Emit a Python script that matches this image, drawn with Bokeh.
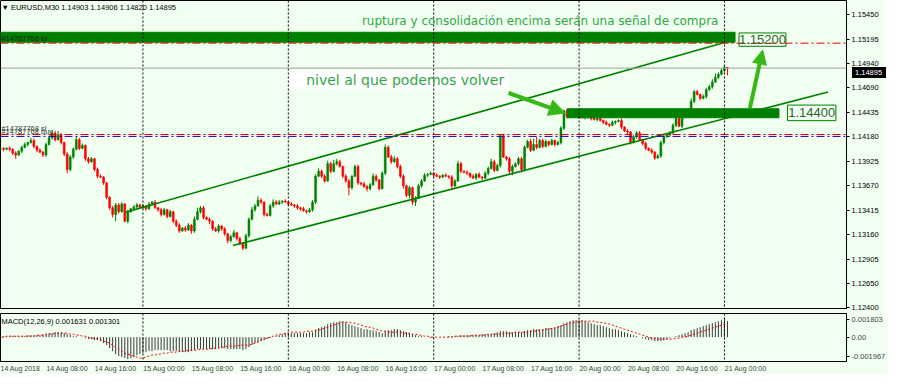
from bokeh.plotting import figure
from bokeh.layouts import column
from bokeh.models import (Range1d, FixedTicker, NumeralTickFormatter, Label,
                          Arrow, NormalHead, Span, Div)
from bokeh.embed import file_html
from bokeh.resources import INLINE

# ---------------- data (EURUSD M30) ----------------
BASE = 1.1240  # close values below are pips above this level
close_pips = [
    166, 166, 165, 166, 165, 161, 159, 163, 167, 170,
    172, 174, 168, 164, 162, 159, 170, 177, 182, 175,
    180, 172, 160, 144, 157, 165, 175, 166, 169, 155,
    152, 155, 144, 137, 136, 130, 115, 104, 97, 107,
    100, 108, 90, 100, 103, 105, 107, 104, 106, 103,
    108, 110, 104, 102, 97, 102, 95, 100, 90, 86,
    80, 83, 81, 86, 80, 92, 100, 104, 94, 92,
    90, 82, 80, 85, 82, 77, 70, 74, 78, 72,
    67, 62, 75, 92, 102, 106, 112, 110, 97, 96,
    106, 110, 108, 110, 111, 110, 108, 107, 106, 104,
    103, 101, 100, 102, 110, 137, 142, 137, 132, 150,
    142, 150, 152, 147, 137, 132, 125, 137, 147, 130,
    129, 126, 124, 128, 137, 133, 124, 140, 167, 157,
    152, 155, 147, 137, 127, 117, 125, 110, 114, 127,
    132, 138, 139, 140, 138, 137, 136, 138, 137, 136,
    127, 132, 150, 142, 141, 140, 137, 135, 139, 136,
    135, 140, 145, 152, 143, 148, 179, 157, 155, 142,
    147, 150, 155, 144, 167, 173, 164, 170, 167, 174,
    168, 173, 170, 174, 170, 172, 187, 205, 199, 201,
    200, 202, 199, 198, 199, 198, 197, 196, 197, 195,
    193, 191, 190, 193, 194, 195, 188, 184, 183, 172,
    178, 182, 175, 171, 166, 164, 162, 156, 158, 172,
    178, 180, 182, 190, 197, 189, 202, 205, 206, 215,
    225, 222, 218, 220, 227, 230, 235, 240, 243, 247,
    250.3, 249.5,
]
upper_wick_pips = [
    1, 2, 1, 1, 2, 1, 2, 1, 2, 2,
    1, 3, 2, 1, 2, 1, 2, 2, 3, 2,
    4, 2, 1, 2, 2, 2, 3, 2, 2, 1,
    2, 2, 1, 2, 2, 1, 1, 1, 2, 2,
    2, 2, 1, 2, 1, 2, 2, 1, 2, 1,
    2, 1, 2, 1, 2, 2, 1, 2, 1, 2,
    2, 1, 2, 2, 1, 3, 4, 2, 2, 1,
    2, 1, 2, 2, 1, 2, 1, 2, 3, 1,
    2, 1, 2, 2, 3, 2, 4, 2, 1, 2,
    2, 3, 2, 2, 1, 2, 1, 2, 1, 2,
    1, 2, 1, 2, 2, 2, 3, 2, 2, 3,
    2, 4, 3, 2, 1, 2, 2, 1, 2, 2,
    1, 2, 2, 2, 3, 2, 1, 2, 3, 2,
    2, 3, 2, 2, 2, 1, 2, 1, 2, 2,
    2, 2, 1, 2, 1, 2, 1, 1, 2, 1,
    2, 2, 3, 2, 1, 2, 1, 2, 1, 2,
    1, 2, 2, 3, 2, 2, 1, 2, 1, 2,
    2, 1, 2, 2, 2, 2, 3, 6, 8, 2,
    2, 2, 1, 2, 1, 2, 2, 1, 2, 2,
    1, 2, 1, 2, 1, 2, 1, 2, 1, 2,
    1, 2, 1, 2, 1, 1, 2, 1, 2, 1,
    2, 2, 2, 1, 2, 1, 2, 1, 2, 2,
    2, 1, 2, 2, 2, 1, 2, 2, 2, 3,
    2, 2, 1, 2, 2, 2, 3, 4, 2, 2,
    2, 0.3,
]
lower_wick_pips = [
    2, 1, 2, 1, 2, 2, 4, 1, 2, 1,
    2, 1, 2, 2, 1, 2, 2, 1, 2, 2,
    1, 2, 2, 4, 2, 2, 1, 2, 1, 2,
    2, 1, 2, 2, 1, 2, 2, 2, 3, 7,
    2, 1, 1, 2, 1, 1, 2, 1, 1, 2,
    1, 2, 1, 2, 2, 1, 2, 1, 2, 2,
    2, 1, 2, 1, 3, 2, 1, 2, 2, 1,
    3, 2, 1, 2, 2, 2, 3, 2, 1, 2,
    2, 2, 1, 2, 1, 2, 1, 2, 2, 1,
    1, 2, 1, 1, 2, 1, 2, 1, 2, 2,
    2, 1, 2, 1, 2, 2, 1, 2, 2, 1,
    2, 1, 2, 1, 2, 2, 8, 2, 1, 2,
    2, 1, 3, 2, 1, 2, 2, 1, 2, 1,
    2, 1, 2, 2, 3, 2, 3, 3, 4, 1,
    2, 1, 2, 1, 2, 1, 2, 1, 1, 2,
    4, 2, 1, 2, 1, 2, 2, 1, 2, 1,
    2, 1, 2, 1, 2, 1, 2, 1, 2, 3,
    4, 1, 2, 3, 2, 1, 2, 1, 2, 1,
    2, 1, 2, 1, 2, 1, 2, 2, 2, 1,
    2, 1, 2, 1, 2, 1, 2, 1, 2, 1,
    2, 1, 2, 1, 2, 1, 2, 1, 2, 2,
    1, 2, 1, 2, 2, 1, 2, 2, 1, 2,
    2, 1, 2, 1, 2, 1, 2, 1, 2, 2,
    2, 1, 2, 1, 2, 1, 2, 1, 2, 1,
    2, 7.5,
]
macd_main_e4 = [
    1, 1, 1, 1, 1, 1, 1, 1, 1, 1,
    2, 2, 2, 2, 2, 3, 3, 4, 4, 5,
    5, 5, 4, 3, 2, 1, 1, 0, 0, -1,
    -2, -2, -3, -3, -4, -6, -8, -11, -14, -17,
    -19, -20, -21, -22, -21, -20, -18, -17, -16, -15,
    -14, -14, -13, -13, -13, -13, -13, -14, -14, -14,
    -15, -15, -15, -15, -14, -13, -12, -12, -12, -12,
    -12, -12, -12, -11, -11, -11, -12, -12, -12, -12,
    -12, -13, -12, -10, -8, -6, -5, -4, -3, -2,
    -1, 0, 1, 2, 3, 4, 4, 4, 4, 4,
    4, 4, 4, 5, 5, 7, 9, 10, 11, 13,
    14, 15, 15, 16, 16, 15, 13, 12, 11, 10,
    9, 8, 8, 7, 7, 6, 5, 4, 6, 7,
    7, 8, 8, 7, 6, 5, 4, 3, 2, 1,
    1, 0, 0, -1, -1, 0, 0, 0, 0, 1,
    1, 1, 1, 2, 2, 2, 2, 2, 2, 2,
    3, 3, 3, 3, 4, 5, 6, 6, 6, 5,
    5, 5, 5, 5, 6, 7, 7, 8, 8, 8,
    8, 9, 9, 9, 10, 11, 12, 14, 15, 16,
    17, 17, 17, 17, 16, 15, 14, 13, 12, 12,
    11, 10, 9, 8, 8, 7, 6, 5, 4, 3,
    2, 1, 0, -1, -2, -3, -3, -4, -4, -4,
    -3, -2, -1, 0, 1, 2, 3, 4, 5, 7,
    8, 9, 10, 11, 12, 13, 14, 15, 16, 17,
    18, 16,
]
macd_signal_e4 = [
    0, 0, 0, 1, 1, 1, 1, 1, 1, 1,
    1, 1, 1, 2, 2, 2, 3, 3, 3, 4,
    4, 4, 4, 4, 3, 3, 2, 2, 1, 1,
    0, -1, -1, -2, -3, -4, -5, -6, -8, -10,
    -12, -14, -16, -17, -18, -19, -20, -21, -21, -20,
    -19, -18, -18, -17, -17, -16, -16, -15, -15, -15,
    -14, -14, -14, -13, -13, -13, -13, -12, -12, -12,
    -12, -11, -11, -11, -10, -10, -9, -9, -9, -9,
    -8, -8, -8, -8, -7, -6, -5, -3, -2, -1,
    0, 1, 2, 3, 3, 4, 4, 5, 5, 5,
    5, 5, 6, 6, 6, 7, 7, 8, 9, 10,
    11, 12, 13, 14, 15, 15, 15, 14, 14, 13,
    12, 11, 10, 10, 9, 8, 7, 6, 6, 5,
    5, 5, 5, 5, 4, 4, 4, 3, 3, 2,
    2, 1, 1, 0, 0, 0, 0, 0, 0, 0,
    0, 1, 1, 1, 1, 1, 1, 2, 2, 2,
    2, 2, 3, 3, 3, 3, 3, 4, 4, 4,
    4, 5, 5, 5, 5, 5, 6, 6, 6, 7,
    7, 8, 8, 9, 9, 10, 11, 12, 13, 14,
    15, 15, 16, 16, 16, 16, 16, 16, 15, 15,
    14, 14, 13, 12, 11, 10, 9, 8, 7, 6,
    5, 4, 3, 2, 1, 0, -1, -1, -2, -2,
    -2, -2, -2, -2, -1, -1, 0, 0, 1, 2,
    3, 4, 5, 6, 7, 8, 9, 10, 11, 12,
    13, 13,
]
time_tick_bars = [0, 16, 32, 48, 64, 80, 96, 112, 128, 144, 160, 176, 192, 208, 224, 240]
time_tick_labels = ["14 Aug 2018", "14 Aug 08:00", "14 Aug 16:00", "15 Aug 00:00",
                    "15 Aug 08:00", "15 Aug 16:00", "16 Aug 00:00", "16 Aug 08:00",
                    "16 Aug 16:00", "17 Aug 00:00", "17 Aug 08:00", "17 Aug 16:00",
                    "20 Aug 00:00", "20 Aug 08:00", "20 Aug 16:00", "21 Aug 00:00"]
day_start_bars = [48, 96, 144, 192, 240]
price_ticks = [1.15450, 1.15195, 1.14940, 1.14690, 1.14435, 1.14180, 1.13925,
               1.13670, 1.13415, 1.13160, 1.12905, 1.12650, 1.12400]
macd_ticks = [0.001803, 0.0, -0.001967]
macd_tick_labels = ["0.001803", "0.00", "-0.001967"]
bid_price = 1.14895
bid_text = "1.14895"
tp_level = 1.15155
sl_level = 1.14204
buy_level = 1.14184
header_text = "\u25bc EURUSD,M30  1.14903 1.14906 1.14820 1.14895"
macd_text = "MACD(12,26,9) 0.001631 0.001301"

# ---------------- derived OHLC ----------------
n = len(close_pips)
idx = list(range(n))
close = [BASE + v / 1e4 for v in close_pips]
opens = [close[0]] + close[:-1]
tops = [max(o, c) for o, c in zip(opens, close)]
bots = [min(o, c) for o, c in zip(opens, close)]
high = [t + u / 1e4 for t, u in zip(tops, upper_wick_pips)]
low = [b - l / 1e4 for b, l in zip(bots, lower_wick_pips)]
BULL, BEAR = "#008000", "#FF0000"
colors = [BULL if c >= o else BEAR for o, c in zip(opens, close)]
macd_main = [v / 1e4 for v in macd_main_e4]
macd_signal = [v / 1e4 for v in macd_signal_e4]

BG = "#F0FFF0"
X0, X1 = 0.97, 280.3
Y0, Y1 = 1.12392, 1.15599
SMALL = "Liberation Sans"
FW = 846          # frame width of both panels
PH = 308          # price frame height

# ---------------- price panel ----------------
p = figure(frame_width=FW, frame_height=PH, x_range=Range1d(X0, X1),
           y_range=Range1d(Y0, Y1), output_backend="svg",
           toolbar_location=None, x_axis_location=None, y_axis_location="right",
           min_border_left=0, min_border_top=0, min_border_bottom=5,
           min_border_right=38, background_fill_color=BG, border_fill_color=BG,
           outline_line_color="black", outline_line_width=1)
p.grid.visible = False
ya = p.yaxis[0]
ya.ticker = FixedTicker(ticks=price_ticks)
ya.formatter = NumeralTickFormatter(format="0.00000")
ya.major_label_text_font = SMALL
ya.major_label_text_font_size = "7.5px"
ya.major_label_text_color = "black"
ya.major_tick_out = 3
ya.major_tick_in = 0
ya.minor_tick_out = 0
ya.minor_tick_in = 0
ya.major_label_standoff = 2
ya.axis_line_color = "black"

for d in day_start_bars:
    p.add_layout(Span(location=d, dimension="height", line_color="black",
                      line_dash="2 2", line_width=1))

# candles
p.segment(x0=idx, y0=low, x1=idx, y1=high, line_color=colors, line_width=1)
p.vbar(x=idx, width=0.6, top=tops, bottom=bots, fill_color=colors,
       line_color=colors, line_width=0.6)

# horizontal levels
p.add_layout(Span(location=bid_price, dimension="width", line_color="#A0A0A0", line_width=1))
p.add_layout(Span(location=tp_level, dimension="width", line_color="#E00000",
                  line_dash="8 3 2 3", line_width=1))
p.add_layout(Span(location=sl_level, dimension="width", line_color="#E00000",
                  line_dash="8 3 2 3", line_width=1))
p.add_layout(Span(location=buy_level, dimension="width", line_color="#0000CC",
                  line_dash="8 3 2 3", line_width=1))

# thick green zones
GREEN = "#008000"
p.quad(left=X0 - 1, right=243.5, bottom=1.15164, top=1.15268,
       fill_color=GREEN, line_color=GREEN)
p.quad(left=188.1, right=258.0, bottom=1.14378, top=1.14472,
       fill_color=GREEN, line_color=GREEN)

# channel lines
p.line([42.3, 243.5], [1.13395, 1.15192], line_color=GREEN, line_width=1.6)
p.line([77.7, 274.2], [1.13047, 1.14646], line_color=GREEN, line_width=1.6)

# price boxes
for (l, r, b, t, txt) in [(244.8, 260.3, 1.15122, 1.15261, "1.15200"),
                          (260.8, 276.8, 1.14348, 1.14510, "1.14400")]:
    p.quad(left=l, right=r, bottom=b, top=t, fill_color=BG,
           line_color=GREEN, line_width=1)
    p.add_layout(Label(x=(l + r) / 2, y=(b + t) / 2, text=txt, text_align="center",
                       text_baseline="middle", text_font=SMALL,
                       text_font_size="13px", text_color="#2F5F2F"))

# arrows
ARROW = "#38B818"
p.add_layout(Arrow(x_start=168.7, y_start=1.14636, x_end=187.4, y_end=1.14427,
                   line_color=ARROW, line_width=4,
                   end=NormalHead(size=16, fill_color=ARROW, line_color=ARROW)))
p.add_layout(Arrow(x_start=248.4, y_start=1.14477, x_end=252.6, y_end=1.15083,
                   line_color=ARROW, line_width=4,
                   end=NormalHead(size=14, fill_color=ARROW, line_color=ARROW)))

# text annotations
TXT = "#30A848"
p.quad(left=95.8, right=168.7, bottom=1.14685, top=1.14854,
       fill_color="white", line_color="white")
p.add_layout(Label(x=101.9, y=1.14772, text="nivel al que podemos volver",
                   text_baseline="middle", text_font="DejaVu Sans",
                   text_font_size="14px", text_color=TXT))
p.add_layout(Label(x=120.3, y=1.15390,
                   text="ruptura y consolidaci\u00f3n encima ser\u00e1n una se\u00f1al de compra",
                   text_baseline="middle", text_font="DejaVu Sans",
                   text_font_size="12px", text_color=TXT))

# order labels and header
p.add_layout(Label(x=X0 + 0.3, y=1.15205, text="#14787768 tp", text_baseline="middle",
                   text_font=SMALL, text_font_size="7.5px", text_color="#202020"))
p.add_layout(Label(x=X0 + 0.3, y=1.14268, text="#14787768 sl", text_baseline="middle",
                   text_font=SMALL, text_font_size="7.5px", text_color="#404040"))
p.add_layout(Label(x=X0 + 0.3, y=1.14232, text="#14787768 buy", text_baseline="middle",
                   text_font=SMALL, text_font_size="7.5px", text_color="#404040"))
p.add_layout(Label(x=X0 + 0.3, y=1.15530, text=header_text, text_baseline="middle",
                   text_font=SMALL, text_font_size="7.5px", text_color="black"))

# ---------------- MACD panel ----------------
m = figure(frame_width=FW, frame_height=48, x_range=p.x_range,
           y_range=Range1d(-0.00244, 0.00237),
           output_backend="svg", toolbar_location=None, y_axis_location="right",
           min_border_left=0, min_border_top=0, min_border_bottom=0, min_border_right=38,
           background_fill_color=BG, border_fill_color=BG,
           outline_line_color="black", outline_line_width=1)
m.grid.visible = False
my = m.yaxis[0]
my.ticker = FixedTicker(ticks=macd_ticks)
my.major_label_overrides = {v: s for v, s in zip(macd_ticks, macd_tick_labels)}
my.major_label_text_font = SMALL
my.major_label_text_font_size = "7.5px"
my.major_tick_out = 3
my.major_tick_in = 0
my.minor_tick_out = 0
my.minor_tick_in = 0
my.major_label_standoff = 2

LABEL_SHIFT = 7
mx = m.xaxis[0]
shifted = [t + LABEL_SHIFT for t in time_tick_bars]
mx.ticker = FixedTicker(ticks=shifted)
mx.major_label_overrides = {v: s for v, s in zip(shifted, time_tick_labels)}
mx.major_label_text_font = SMALL
mx.major_label_text_font_size = "7px"
mx.major_tick_out = 0
mx.major_tick_in = 0
mx.minor_tick_out = 0
mx.minor_tick_in = 0
mx.major_label_standoff = 3
mx.axis_line_color = "black"

for d in day_start_bars:
    m.add_layout(Span(location=d, dimension="height", line_color="black",
                      line_dash="2 2", line_width=1))

m.segment(x0=idx, y0=[0.0] * n, x1=idx, y1=macd_main, line_color="#3A3A3A", line_width=1)
m.line(idx, macd_signal, line_color="#FF0000", line_dash="2 2", line_width=1)
m.add_layout(Label(x=X0 + 0.3, y=0.00158, text=macd_text, text_baseline="middle",
                   text_font=SMALL, text_font_size="7.5px", text_color="black"))

# bid price tag on the price scale (overlay)
tag_top = (Y1 - bid_price) / (Y1 - Y0) * PH - 5.5
tag = Div(text=bid_text, width=34, height=11,
          styles={"position": "absolute", "left": f"{FW + 1}px", "top": f"{tag_top:.1f}px",
                  "background-color": "black", "color": "white",
                  "font-family": "Liberation Sans", "font-size": "7.5px",
                  "line-height": "11px", "padding-left": "3px", "z-index": "10"})

layout = column(p, m, tag, spacing=0)
open("out.html", "w").write(file_html(layout, INLINE))
